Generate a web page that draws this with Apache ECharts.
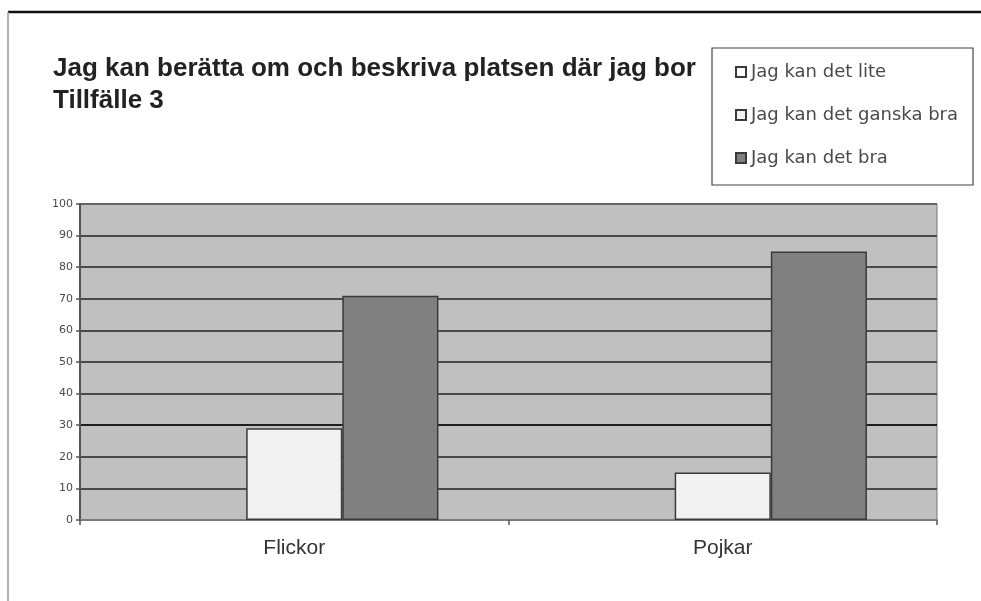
<!DOCTYPE html>
<html>
<head>
<meta charset="utf-8">
<script src="https://cdn.jsdelivr.net/npm/echarts@6/dist/echarts.min.js"></script>
<style>
  html, body { margin: 0; padding: 0; background: #ffffff; }
  #chart { width: 981px; height: 601px; }
</style>
</head>
<body>
<div id="chart"></div>
<script>
// Categories and values (percent)
const categories = ['Flickor', 'Pojkar'];
const seriesNames = ['Jag kan det lite', 'Jag kan det ganska bra', 'Jag kan det bra'];
const valuesLite = [0, 0];
const valuesGanskaBra = [29, 15];
const valuesBra = [71, 85];
const yTicks = { min: 0, max: 100, interval: 10 };

const chart = echarts.init(document.getElementById('chart'), null, { renderer: 'canvas' });

// Grid line colours per tick (0..100); the 30 line is drawn darker
const splitColors = ['#555', '#4a4a4a', '#4a4a4a', '#1e1e1e', '#4a4a4a', '#4a4a4a',
                     '#4a4a4a', '#4a4a4a', '#4a4a4a', '#4a4a4a', '#666'];

const barBorder = { borderColor: '#3a3a3a', borderWidth: 1.5 };

// zero-height bars get no outline, so nothing shows along the axis
const liteData = valuesLite.map(v => ({ value: v, itemStyle: { borderWidth: v === 0 ? 0 : 1.5 } }));

chart.setOption({
  backgroundColor: '#ffffff',
  animation: false,
  title: {
    text: 'Jag kan berätta om och beskriva platsen där jag bor\nTillfälle 3',
    left: 53,
    top: 53,
    padding: 0,
    textStyle: {
      fontFamily: 'Liberation Sans',
      fontWeight: 'bold',
      fontSize: 26,
      lineHeight: 32,
      color: '#222'
    }
  },
  graphic: [
    // frame lines of the sheet
    { type: 'line', z: 0, shape: { x1: 8, y1: 12, x2: 981, y2: 12 },
      style: { stroke: '#111', lineWidth: 2.5 } },
    { type: 'line', z: 0, shape: { x1: 8, y1: 12, x2: 8, y2: 601 },
      style: { stroke: '#999', lineWidth: 1.5 } },
    // legend box
    { type: 'rect', z: 0, shape: { x: 712, y: 48, width: 261, height: 137 },
      style: { fill: '#ffffff', stroke: '#444', lineWidth: 1.2 } }
  ],
  legend: {
    orient: 'vertical',
    left: 735,
    top: 63,
    padding: 0,
    itemWidth: 10,
    itemHeight: 10,
    itemGap: 25,
    icon: 'rect',
    data: seriesNames,
    textStyle: {
      fontFamily: 'DejaVu Sans',
      fontSize: 18,
      color: '#4a4a4a'
    }
  },
  grid: {
    left: 80,
    right: 44,
    top: 204,
    bottom: 81,
    show: true,
    backgroundColor: '#c0c0c0',
    borderColor: '#777',
    borderWidth: 1
  },
  xAxis: {
    type: 'category',
    data: categories,
    axisLine: { show: true, lineStyle: { color: '#888', width: 1.5 } },
    axisTick: { show: true, length: 5, lineStyle: { color: '#555', width: 1.5 } },
    axisLabel: {
      fontFamily: 'Liberation Sans',
      fontSize: 21,
      color: '#333',
      margin: 18
    },
    splitLine: { show: false }
  },
  yAxis: {
    type: 'value',
    min: yTicks.min,
    max: yTicks.max,
    interval: yTicks.interval,
    axisLine: { show: true, lineStyle: { color: '#555', width: 2 } },
    axisTick: { show: true, length: 4, lineStyle: { color: '#555', width: 1.5 } },
    axisLabel: {
      fontFamily: 'DejaVu Sans',
      fontSize: 11,
      color: '#4a4a4a',
      margin: 7
    },
    splitLine: { show: true, lineStyle: { color: splitColors, width: 1.8 } }
  },
  series: [
    {
      name: seriesNames[0],
      type: 'bar',
      data: liteData,
      barGap: '0%',
      barCategoryGap: '32.7%',
      itemStyle: Object.assign({ color: '#ffffff' }, barBorder)
    },
    {
      name: seriesNames[1],
      type: 'bar',
      data: valuesGanskaBra,
      barGap: '0%',
      barCategoryGap: '32.7%',
      itemStyle: Object.assign({ color: '#f2f2f2' }, barBorder)
    },
    {
      name: seriesNames[2],
      type: 'bar',
      data: valuesBra,
      barGap: '0%',
      barCategoryGap: '32.7%',
      itemStyle: Object.assign({ color: '#808080' }, barBorder)
    }
  ]
});
</script>
</body>
</html>
